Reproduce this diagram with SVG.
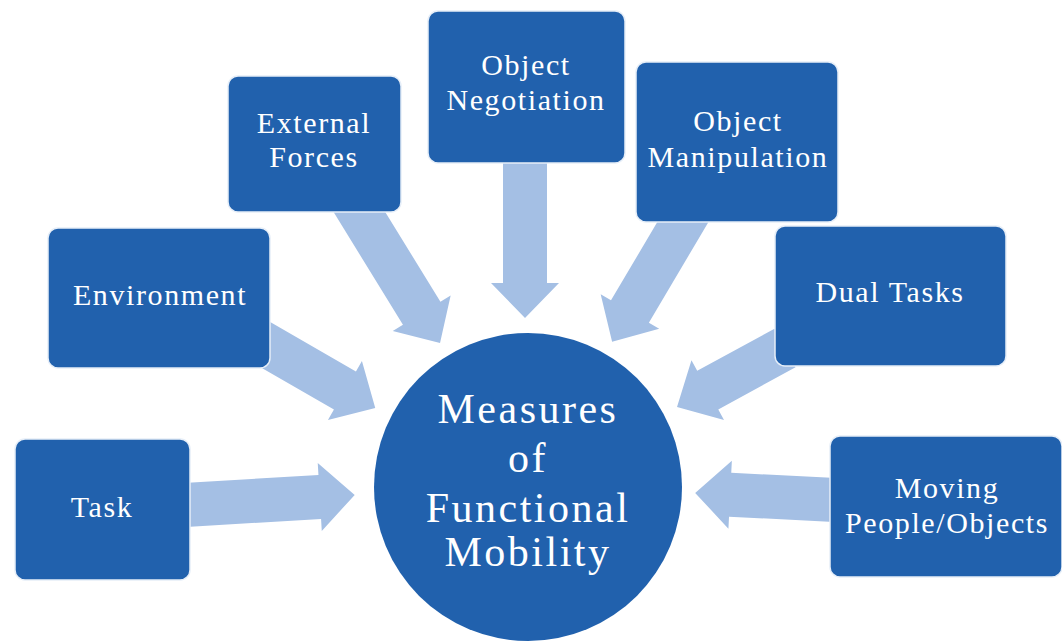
<svg xmlns="http://www.w3.org/2000/svg" width="1062" height="641" viewBox="0 0 1062 641">
<style>
.box{fill:#2161ad;stroke:#e6eef8;stroke-width:1.5}
.hub{fill:#2161ad}
.arr{fill:#a4bfe4}
.t{font-family:"Liberation Serif",serif;font-size:30px;letter-spacing:1.6px;fill:#ffffff;text-anchor:middle}
.c{font-family:"Liberation Serif",serif;font-size:42px;letter-spacing:2.5px;fill:#ffffff;text-anchor:middle}
</style>
<rect width="1062" height="641" fill="#ffffff"/>
<g id="connectors">
<path class="arr" transform="translate(185,505) rotate(-3.4)" d="M0,-22 H135 V-34 L170,0 L135,34 V22 H0 Z"/>
<path class="arr" transform="translate(254,338) rotate(30)" d="M0,-22 H105 V-34 L140,0 L105,34 V22 H0 Z"/>
<path class="arr" transform="translate(352,200) rotate(58.4)" d="M0,-22 H133 V-34 L168,0 L133,34 V22 H0 Z"/>
<path class="arr" transform="translate(525,160) rotate(90)" d="M0,-22 H123 V-34 L158,0 L123,34 V22 H0 Z"/>
<path class="arr" transform="translate(690,210) rotate(120.6)" d="M0,-22 H118 V-34 L153,0 L118,34 V22 H0 Z"/>
<path class="arr" transform="translate(785,348) rotate(151.4)" d="M0,-22 H88 V-34 L123,0 L88,34 V22 H0 Z"/>
<path class="arr" transform="translate(835,500) rotate(182.9)" d="M0,-22 H105 V-34 L140,0 L105,34 V22 H0 Z"/>
</g>
<g id="hub">
<circle class="hub" cx="528" cy="487" r="154"/>
<text class="c" x="528" y="423">Measures</text>
<text class="c" x="528" y="472">of</text>
<text class="c" x="528" y="522">Functional</text>
<text class="c" x="528" y="566">Mobility</text>
</g>
<g id="task">
<rect class="box" x="15" y="439" width="175" height="141" rx="10"/>
<text class="t" x="102" y="517">Task</text>
</g>
<g id="environment">
<rect class="box" x="48" y="228" width="222" height="140" rx="10"/>
<text class="t" x="160" y="305">Environment</text>
</g>
<g id="external-forces">
<rect class="box" x="228" y="76" width="173" height="136" rx="10"/>
<text class="t" x="314" y="133">External</text>
<text class="t" x="314" y="167">Forces</text>
</g>
<g id="object-negotiation">
<rect class="box" x="428" y="11" width="197" height="152" rx="10"/>
<text class="t" x="526" y="75">Object</text>
<text class="t" x="526" y="110">Negotiation</text>
</g>
<g id="object-manipulation">
<rect class="box" x="636" y="62" width="202" height="160" rx="10"/>
<text class="t" x="738" y="131">Object</text>
<text class="t" x="738" y="167">Manipulation</text>
</g>
<g id="dual-tasks">
<rect class="box" x="775" y="226" width="231" height="140" rx="10"/>
<text class="t" x="890" y="302">Dual Tasks</text>
</g>
<g id="moving">
<rect class="box" x="830" y="436" width="232" height="141" rx="10"/>
<text class="t" x="947" y="498">Moving</text>
<text class="t" x="947" y="533">People/Objects</text>
</g>
</svg>
